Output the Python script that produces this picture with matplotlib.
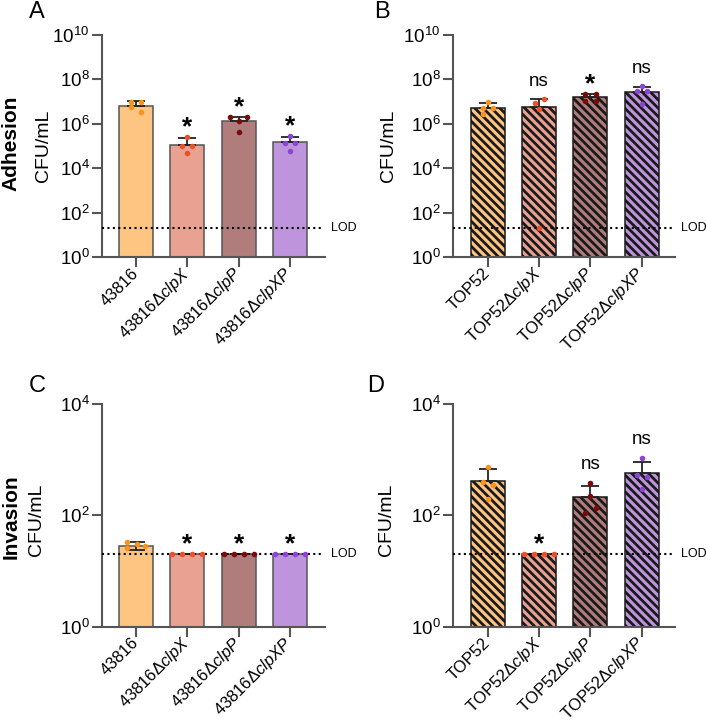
import matplotlib
import numpy as np

matplotlib.use("Agg")
import matplotlib.pyplot as plt
import matplotlib.transforms as mtransforms
from matplotlib.ticker import LogFormatterSciNotation, NullLocator

plt.rcParams["font.family"] = ["Liberation Sans", "DejaVu Sans"]
plt.rcParams["mathtext.fontset"] = "custom"
plt.rcParams["mathtext.rm"] = "Liberation Sans"
plt.rcParams["mathtext.it"] = "Liberation Sans:italic"
plt.rcParams["mathtext.bf"] = "Liberation Sans:bold"
plt.rcParams["hatch.linewidth"] = 2.0

# ---- data (CFU/mL) ----
LOD = 20.0

LABELS_WT = ["43816", r"43816$\mathit{Δclp X}$", r"43816$\mathit{Δclp P}$", r"43816$\mathit{Δclp XP}$"]
LABELS_TOP = ["TOP52", r"TOP52$\mathit{Δclp X}$", r"TOP52$\mathit{Δclp P}$", r"TOP52$\mathit{Δclp XP}$"]

# panel A: adhesion, 43816 background
A_MEAN = [6.6e6, 1.1e5, 1.35e6, 1.5e5]
A_ERR_HI = [1.07e7, 2.2e5, 2.1e6, 2.5e5]
A_REPS = [[1.0e7, 1.0e7, 6.0e6, 3.5e6],
          [2.5e5, 1.0e5, 1.0e5, 4.7e4],
          [1.95e6, 1.95e6, 1.4e6, 4.2e5],
          [2.8e5, 1.4e5, 1.4e5, 6.2e4]]
A_SIG = ["", "*", "*", "*"]

# panel B: adhesion, TOP52 background
B_MEAN = [5.1e6, 5.9e6, 1.55e7, 2.8e7]
B_ERR_HI = [8.3e6, 1.26e7, 2.3e7, 4.7e7]
B_REPS = [[1.0e7, 5.0e6, 5.0e6, 2.75e6],
          [8.3e6, 1.3e7, 4.5e6, 20],
          [2.2e7, 2.2e7, 1.1e7, 1.1e7],
          [5.0e7, 3.1e7, 3.1e7, 7.8e6]]
B_SIG = ["", "ns", "*", "ns"]

# panel C: invasion, 43816 background
C_MEAN = [28, 20, 20, 20]
C_ERR_LO = [24.1, 20, 20, 20]
C_ERR_HI = [33.6, 20, 20, 20]
C_REPS = [[33, 30.5, 28.5, 25.7],
          [20, 20, 20, 20],
          [20, 20, 20, 20],
          [20, 20, 20, 20]]
C_SIG = ["", "*", "*", "*"]

# panel D: invasion, TOP52 background
D_MEAN = [414, 20, 210, 585]
D_ERR_HI = [676, 20, 339, 912]
D_REPS = [[741, 398, 347, 195],
          [20, 20, 20, 20],
          [389, 224, 112, 138],
          [1072, 525, 479, 302]]
D_SIG = ["", "*", "ns", "ns"]

# ---- style ----
BAR_COLORS = ["#FDC482", "#E9A191", "#B07C7C", "#BE95DC"]
DOT_COLORS = ["#F7931E", "#E8512C", "#7A0B0B", "#8C45D2"]
W, H = 706, 723

# horizontal spread of replicate dots (bar units)
JIT_A = [[-0.09, 0.09, -0.09, 0.09], [0, -0.1, 0.1, 0], [-0.17, 0.17, 0, 0], [0, -0.1, 0.1, 0]]
JIT_B = [[0, -0.1, 0.1, -0.1], [-0.08, 0.1, 0, 0], [-0.1, 0.1, -0.1, 0.1], [0, -0.1, 0.1, 0]]
JIT_C = [[-0.17, 0.02, 0.17, -0.17], [-0.29, -0.1, 0.1, 0.29], [-0.29, -0.1, 0.1, 0.29], [-0.29, -0.1, 0.1, 0.29]]
JIT_D = [[0, -0.1, 0.1, 0], [-0.29, -0.1, 0.1, 0.29], [0, 0, -0.1, 0.1], [0, -0.1, 0.1, 0]]


def px_axes(fig, x0, x1, ytop, ybot):
    return fig.add_axes([x0 / W, 1 - ybot / H, (x1 - x0) / W, (ybot - ytop) / H])


def draw_panel(ax, labels, mean, err_lo, err_hi, reps, sig, jit, ymax, xlim, hatch, lod_end):
    x = np.arange(len(labels))
    mean = np.array(mean, dtype=float)
    lo = mean - np.array(err_lo, dtype=float)
    hi = np.array(err_hi, dtype=float) - mean
    edge = "#1a1a1a" if hatch else "#555555"
    ax.bar(x, mean - 1, bottom=1, width=0.66, color=BAR_COLORS, edgecolor=edge,
           linewidth=1.1, hatch=hatch, zorder=2)
    ax.errorbar(x, mean, yerr=[lo, hi], fmt="none", ecolor="#222222", elinewidth=1.3,
                capsize=6.5, capthick=1.3, zorder=3)
    ax.plot([xlim[0], lod_end], [LOD, LOD], color="black", lw=1.5, ls=(0, (1, 1.6)), zorder=4)
    trans = mtransforms.blended_transform_factory(ax.transAxes, ax.transData)
    ax.annotate("LOD", xy=(1.0, LOD), xycoords=trans, xytext=(4, 0), textcoords="offset points",
                ha="left", va="center", fontsize=9, annotation_clip=False)
    for i in range(len(x)):
        ax.scatter(x[i] + np.array(jit[i]), reps[i], s=16, color=DOT_COLORS[i], zorder=5,
                   clip_on=False, linewidths=0)
        if sig[i]:
            top = max(err_hi[i], max(reps[i]))
            if sig[i] == "*":
                ax.annotate("*", xy=(x[i], top), xytext=(0, 7), textcoords="offset points",
                            ha="center", va="center", fontsize=19, fontweight="bold")
            else:
                ax.annotate("ns", xy=(x[i], top), xytext=(0, 13), textcoords="offset points",
                            ha="center", va="center", fontsize=13.5)

    ax.set_yscale("log")
    ax.set_ylim(1, ymax)
    ax.set_xlim(*xlim)
    ax.set_yticks([10.0 ** k for k in range(0, int(np.log10(ymax)) + 1, 2)])
    ax.yaxis.set_major_formatter(LogFormatterSciNotation())
    ax.yaxis.set_minor_locator(NullLocator())
    ax.set_xticks(x)
    ax.set_xticklabels(labels, rotation=45, ha="right", va="center", rotation_mode="anchor",
                       fontsize=12)
    shift = mtransforms.ScaledTranslation(5 / 100, 7 / 100, ax.figure.dpi_scale_trans)
    for lbl in ax.get_xticklabels():
        lbl.set_transform(lbl.get_transform() + shift)
    ax.tick_params(axis="y", labelsize=13.5, length=7, width=1.5, color="#555555", pad=2)
    ax.tick_params(axis="x", length=7, width=1.5, color="#555555", pad=3)
    for side in ("top", "right"):
        ax.spines[side].set_visible(False)
    for side in ("left", "bottom"):
        ax.spines[side].set_linewidth(1.5)
        ax.spines[side].set_color("#555555")
    ax.set_ylabel("CFU/mL", fontsize=14)


fig = plt.figure(figsize=(W / 100, H / 100), dpi=100)

ax_a = px_axes(fig, 102, 325, 35, 257)
draw_panel(ax_a, LABELS_WT, A_MEAN, A_MEAN, A_ERR_HI, A_REPS, A_SIG, JIT_A,
           1e10, (-0.662, 3.68), None, 3.62)
ax_a.yaxis.set_label_coords(-0.225, 0.5)

ax_b = px_axes(fig, 453, 675, 35, 257)
draw_panel(ax_b, LABELS_TOP, B_MEAN, B_MEAN, B_ERR_HI, B_REPS, B_SIG, JIT_B,
           1e10, (-0.68, 3.65), "\\\\\\\\", 3.59)
ax_b.yaxis.set_label_coords(-0.25, 0.5)

ax_c = px_axes(fig, 102, 325, 404, 626.7)
draw_panel(ax_c, LABELS_WT, C_MEAN, C_ERR_LO, C_ERR_HI, C_REPS, C_SIG, JIT_C,
           1e4, (-0.662, 3.68), None, 3.62)
ax_c.yaxis.set_label_coords(-0.255, 0.48)

ax_d = px_axes(fig, 453, 675, 404, 626.7)
draw_panel(ax_d, LABELS_TOP, D_MEAN, D_MEAN, D_ERR_HI, D_REPS, D_SIG, JIT_D,
           1e4, (-0.68, 3.65), "\\\\\\\\", 3.59)
ax_d.yaxis.set_label_coords(-0.26, 0.48)

for letter, (px, py) in {"A": (37, 12), "B": (382, 12), "C": (37, 386), "D": (376, 386)}.items():
    fig.text(px / W, 1 - py / H, letter, fontsize=17, ha="center", va="center")
fig.text(11 / W, 1 - 143 / H, "Adhesion", rotation=90, fontsize=15, fontweight="bold",
         ha="center", va="center")
fig.text(11 / W, 1 - 517 / H, "Invasion", rotation=90, fontsize=15, fontweight="bold",
         ha="center", va="center")

fig.savefig("out.png", dpi=100)
